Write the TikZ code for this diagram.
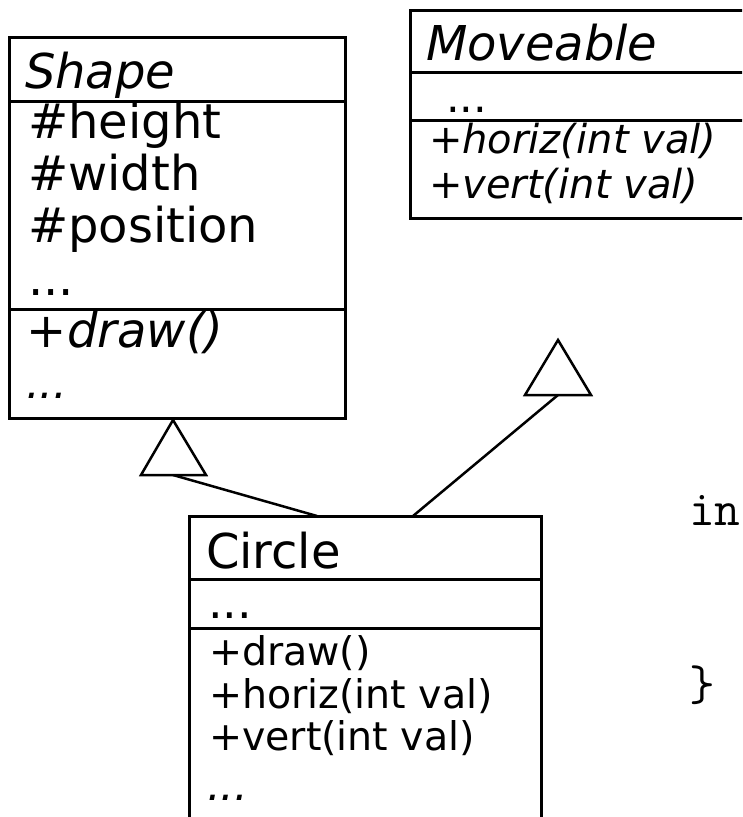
\documentclass[tikz,border=0pt]{standalone}
\usepackage{fontspec}
\setmainfont{DejaVu Sans}
\newcommand{\fsz}[1]{\fontsize{#1}{#1}\selectfont}
\tikzset{
  classbox/.style={draw, line width=3pt, rectangle, inner sep=0pt, outer sep=0pt, anchor=north west},
  divider/.style={line width=3pt},
  txt/.style={anchor=base west, inner sep=0pt, outer sep=0pt},
  hollowtip/.style={line width=2.5pt, line join=miter, fill=white},
  link/.style={line width=2.5pt}
}
\begin{document}
\begin{tikzpicture}[x=1pt, y=-1pt]
\useasboundingbox (0,0) rectangle (742,817);
\clip (0,0) rectangle (742,817);

% ---- class Shape (abstract) ----
\node[classbox, minimum width=336pt, minimum height=381pt] (shape) at (9,37) {};
\draw[divider] (shape.west |- 0,101) -- (shape.east |- 0,101);
\draw[divider] (shape.west |- 0,309) -- (shape.east |- 0,309);
\node[txt, font=\fsz{48}\itshape] (shapeName) at (25,88) {Shape};
\node[txt, font=\fsz{48}] (shapeA1) at (28,138) {\#height};
\node[txt, font=\fsz{48}] (shapeA2) at (28,190) {\#width};
\node[txt, font=\fsz{48}] (shapeA3) at (28,242) {\#position};
\node[txt, font=\fsz{48}] (shapeA4) at (28,295) {...};
\node[txt, font=\fsz{48}\itshape] (shapeM1) at (27,347) {+draw()};
\node[txt, font=\fsz{43}\itshape] (shapeM2) at (26,398) {...};

% ---- interface Moveable ----
\node[classbox, minimum width=345pt, minimum height=208pt] (move) at (410,10) {};
\draw[divider] (move.west |- 0,72) -- (move.east |- 0,72);
\draw[divider] (move.west |- 0,120) -- (move.east |- 0,120);
\node[txt, font=\fsz{48}\itshape] (moveName) at (426,60) {Moveable};
\node[txt, font=\fsz{43}] (moveA1) at (446,112) {...};
\node[txt, font=\fsz{40}\itshape] (moveM1) at (429,153) {+horiz(int val)};
\node[txt, font=\fsz{40}\itshape] (moveM2) at (429,198) {+vert(int val)};

% ---- class Circle ----
\node[classbox, minimum width=352.5pt, minimum height=320pt] (circle) at (189,516) {};
\draw[divider] (circle.west |- 0,579) -- (circle.east |- 0,579);
\draw[divider] (circle.west |- 0,628) -- (circle.east |- 0,628);
\node[txt, font=\fsz{48}] (circleName) at (206,568) {Circle};
\node[txt, font=\fsz{46}] (circleA1) at (208,618) {...};
\node[txt, font=\fsz{39.5}] (circleM1) at (209,665) {+draw()};
\node[txt, font=\fsz{39.5}] (circleM2) at (209,708) {+horiz(int val)};
\node[txt, font=\fsz{39.5}] (circleM3) at (209,750) {+vert(int val)};
\node[txt, font=\fsz{43}\itshape] (circleM4) at (207,800) {...};

% ---- code fragment at the right edge ----
\node[txt, font=\ttfamily\fsz{50}] (codeA) at (689,525) {in};
\node[txt, font=\ttfamily\fsz{50}] (codeB) at (689,700) {\}};

% ---- generalisation arrows ----
\coordinate (shapeTip) at (173,420);
\coordinate (shapeBL) at (141,475);
\coordinate (shapeBR) at (206,475);
\coordinate (shapeBase) at (173,475);
\coordinate (moveTip) at (558,340);
\coordinate (moveBL) at (525,395);
\coordinate (moveBR) at (591,395);
\coordinate (moveBase) at (558,395);
\coordinate (circleL) at (317,516);
\coordinate (circleR) at (413,516);

\draw[link] (circleL) -- (shapeBase);
\draw[link] (circleR) -- (moveBase);
\draw[hollowtip] (shapeTip) -- (shapeBR) -- (shapeBL) -- cycle;
\draw[hollowtip] (moveTip) -- (moveBR) -- (moveBL) -- cycle;
\end{tikzpicture}
\end{document}
